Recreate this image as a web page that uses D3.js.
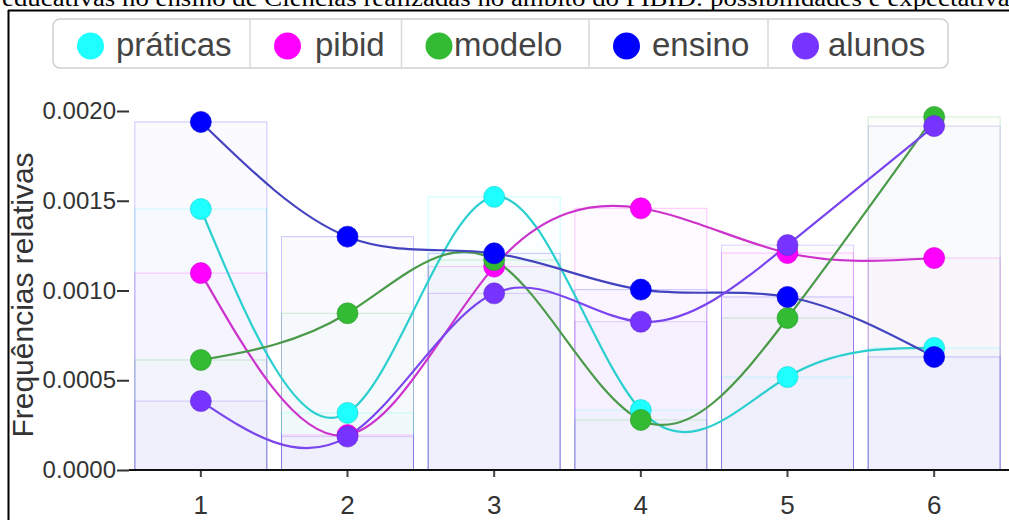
<!DOCTYPE html>
<html><head><meta charset="utf-8">
<script src="https://cdn.jsdelivr.net/npm/d3@7"></script>
<style>body{margin:0;background:#fff;} svg{display:block}</style>
</head><body><svg id="c" width="1009" height="520"></svg>
<script>
// ---- data ----
const categories = ["1","2","3","4","5","6"];
const seriesNames = ["práticas","pibid","modelo","ensino","alunos"];
const praticas = [0.001454, 0.000318, 0.001522, 0.000334, 0.000518, 0.000680];
const pibid    = [0.001097, 0.000195, 0.001133, 0.001458, 0.001209, 0.001181];
const modelo   = [0.000613, 0.000873, 0.001170, 0.000279, 0.000847, 0.001967];
const ensino   = [0.001939, 0.001300, 0.001207, 0.001005, 0.000964, 0.000630];
const alunos   = [0.000384, 0.000186, 0.000984, 0.000826, 0.001253, 0.001916];
const yTicks = [0, 0.0005, 0.0010, 0.0015, 0.0020];
const titleText = "educativas no ensino de Ciências realizadas no âmbito do PIBID: possibilidades e expectativas";
const yLabel = "Frequências relativas";

// ---- styles ----
const seriesValues = [praticas, pibid, modelo, ensino, alunos];
const markerColors = ["#1effff", "#ff00ff", "#33bb33", "#0000ff", "#7733ff"];
const lineColors   = ["#2ccfcf", "#cc33cc", "#4a9a4a", "#4343c0", "#7a44ee"];
const FONT = "Liberation Sans, Arial, Helvetica, sans-serif";

const svg = d3.select("#c");

// title line (cut off at top) and frame
svg.append("text")
  .attr("x", 2).attr("y", 6)
  .attr("font-family", "Liberation Serif, Times New Roman, serif")
  .attr("font-size", 24)
  .attr("textLength", 1018).attr("lengthAdjust", "spacingAndGlyphs")
  .attr("fill", "#000")
  .text(titleText);
svg.append("line").attr("x1", 8).attr("x2", 1009).attr("y1", 10.5).attr("y2", 10.5)
  .attr("stroke", "#000").attr("stroke-width", 2);
svg.append("line").attr("x1", 8.5).attr("x2", 8.5).attr("y1", 10).attr("y2", 520)
  .attr("stroke", "#000").attr("stroke-width", 2);

// scales
const x = d3.scaleBand().domain(categories).range([127.5, 1007.5]).paddingInner(0.1).paddingOuter(0.05);
const cx = c => x(c) + x.bandwidth() / 2;
const y = d3.scaleLinear().domain([0, 0.002]).range([470, 111]);

// bars (overlaid, translucent)
const barG = svg.append("g");
seriesValues.forEach((vals, si) => {
  barG.selectAll(null).data(vals).join("rect")
    .attr("x", (d, i) => x(categories[i]))
    .attr("width", x.bandwidth())
    .attr("y", d => y(d))
    .attr("height", d => y(0) - y(d))
    .attr("fill", markerColors[si]).attr("fill-opacity", 0.018)
    .attr("stroke", markerColors[si]).attr("stroke-opacity", 0.22).attr("stroke-width", 1);
});

// x axis
const xAxis = svg.append("g").attr("transform", "translate(0,470)")
  .call(d3.axisBottom(x).tickSize(7).tickSizeOuter(0));
xAxis.select(".domain").remove();
xAxis.append("line").attr("x1", 129).attr("x2", 1009).attr("y1", 0).attr("y2", 0)
  .attr("stroke", "#111").attr("stroke-width", 2);
xAxis.selectAll(".tick line").attr("stroke", "#444").attr("stroke-width", 2);
xAxis.selectAll(".tick text").attr("y", 26).attr("dy", "0.71em")
  .attr("font-family", FONT).attr("font-size", 26).attr("fill", "#333");

// y axis
const yAxis = svg.append("g").attr("transform", "translate(129,0)")
  .call(d3.axisLeft(y).tickValues(yTicks).tickFormat(d3.format(".4f")).tickSize(12).tickPadding(1));
yAxis.select(".domain").remove();
yAxis.selectAll(".tick line").attr("stroke", "#333").attr("stroke-width", 2);
yAxis.selectAll(".tick text").attr("font-family", FONT).attr("font-size", 24).attr("fill", "#333");

svg.append("text")
  .attr("transform", "translate(33,295) rotate(-90)")
  .attr("text-anchor", "middle")
  .attr("font-family", FONT).attr("font-size", 30).attr("fill", "#333")
  .text(yLabel);

// lines
const line = d3.line().x((d, i) => cx(categories[i])).y(d => y(d)).curve(d3.curveNatural);
seriesValues.forEach((vals, si) => {
  svg.append("path").attr("d", line(vals))
    .attr("fill", "none").attr("stroke", lineColors[si]).attr("stroke-width", 2.2);
});
// markers
seriesValues.forEach((vals, si) => {
  svg.append("g").selectAll("circle").data(vals).join("circle")
    .attr("cx", (d, i) => cx(categories[i]))
    .attr("cy", d => y(d))
    .attr("r", 10.5)
    .attr("fill", markerColors[si])
    .attr("stroke", d3.color(markerColors[si]).darker(0.6)).attr("stroke-opacity", 0.6).attr("stroke-width", 1);
});

// legend
const legStarts = [53, 250, 401.5, 589, 768];
const legEnd = 948;
const legTextX = [116, 315, 454, 652, 828];
const leg = svg.append("g");
leg.append("rect").attr("x", 53).attr("y", 19).attr("width", legEnd - 53).attr("height", 49)
  .attr("rx", 7).attr("fill", "#fff").attr("stroke", "#cfcfcf").attr("stroke-width", 1.5);
legStarts.slice(1).forEach(s => {
  leg.append("line").attr("x1", s).attr("x2", s).attr("y1", 19.5).attr("y2", 67.5)
    .attr("stroke", "#d8d8d8").attr("stroke-width", 1.5);
});
seriesNames.forEach((n, si) => {
  leg.append("circle").attr("cx", legStarts[si] + 37.5).attr("cy", 46).attr("r", 13.5)
    .attr("fill", markerColors[si]);
  leg.append("text").attr("x", legTextX[si]).attr("y", 56)
    .attr("font-family", FONT).attr("font-size", 33).attr("fill", "#444")
    .text(n);
});
</script>
</body></html>
